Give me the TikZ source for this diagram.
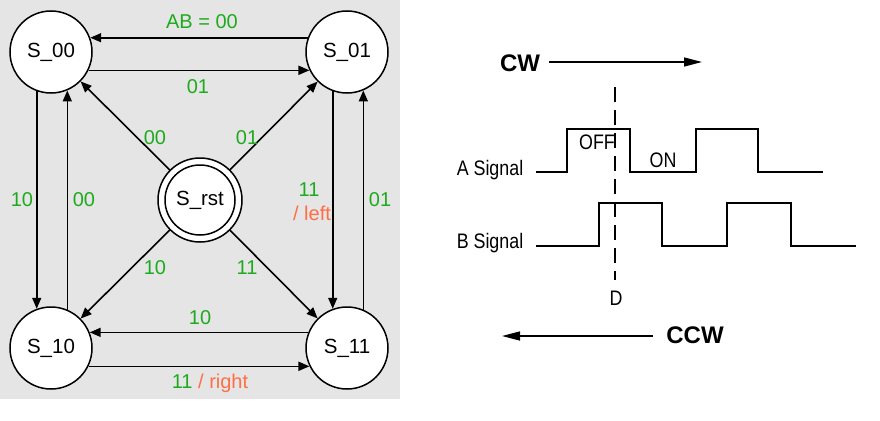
\documentclass[tikz,border=0pt]{standalone}
\usepackage{fontspec}
\setmainfont{Liberation Sans}
\newfontfamily\condfont[FakeStretch=0.85]{Liberation Sans}
\usetikzlibrary{arrows.meta}
\definecolor{bggray}{RGB}{229,229,229}
\definecolor{lblgreen}{RGB}{30,170,30}
\definecolor{lblorange}{RGB}{255,110,70}
\tikzset{
  state/.style={circle, draw=black, fill=white, line width=1.5pt, minimum size=82pt, inner sep=0pt,
    font=\fontsize{20.5}{24}\selectfont},
  arr/.style={line width=1.6pt, -{Triangle[length=11pt,width=9pt]}},
  lbl/.style={inner sep=0pt, text=lblgreen, font=\fontsize{20}{24}\selectfont},
  lblo/.style={inner sep=0pt, text=lblorange, font=\fontsize{20}{24}\selectfont},
  sig/.style={line width=2.7pt, line join=miter},
  sigtxt/.style={inner sep=0pt, font=\condfont\fontsize{21}{24}\selectfont},
  bigarr/.style={line width=1.4pt, -{Triangle[length=18pt,width=9pt]}},
  dirtxt/.style={inner sep=0pt, font=\bfseries\fontsize{24}{28}\selectfont}
}
\begin{document}
\begin{tikzpicture}[x=1pt,y=-1pt]
\useasboundingbox (0,0) rectangle (880,420);
\fill[white] (0,0) rectangle (880,420);
\fill[bggray] (0,0) rectangle (400,399);

% states
\node[state] (s00) at (51,52) {S\_00};
\node[state] (s01) at (347,52) {S\_01};
\node[state] (s10) at (51,348) {S\_10};
\node[state] (s11) at (347,348) {S\_11};
\coordinate (rstc) at (200,200);
\draw[line width=1.5pt, fill=white] (rstc) circle[radius=42pt];
\node[state, minimum size=70pt, outer sep=7pt] (rst) at (rstc) {S\_rst};

% transitions
\draw[arr] (s01.160) -- (s00.20);
\draw[arr] (s00.334) -- (s01.206);
\draw[arr] (s00.250) -- (s10.110);
\draw[arr] (s10.67) -- (s00.293);
\draw[arr] (s01.250) -- (s11.110);
\draw[arr] (s11.67) -- (s01.293);
\draw[arr] (s11.158) -- (s10.22);
\draw[arr] (s10.334) -- (s11.206);
\draw[arr] (rst) -- (s00);
\draw[arr] (rst) -- (s01);
\draw[arr] (rst) -- (s10);
\draw[arr] (rst) -- (s11);

% labels
\node[lbl] (l1) at (202,22) {AB = 00};
\node[lbl] (l2) at (198,87) {01};
\node[lbl] (l3) at (155,138) {00};
\node[lbl] (l4) at (247,138) {01};
\node[lbl] (l5) at (22,200) {10};
\node[lbl] (l6) at (84,200) {00};
\node[lbl] (l7) at (309,190) {11};
\node[lblo] (l7b) at (312,213) {/ left};
\node[lbl] (l8) at (380,200) {01};
\node[lbl] (l9) at (155,268) {10};
\node[lbl] (l10) at (247,268) {11};
\node[lbl] (l11) at (200,318) {10};
\node[lbl] (l12) at (210,383) {11 \textcolor{lblorange}{/ right}};

% right panel
\node[dirtxt] (cw) at (520,63) {CW};
\coordinate (cws) at (549,62);
\coordinate (cwe) at (702,62);
\draw[bigarr] (cws) -- (cwe);

\node[dirtxt] (ccw) at (695,335) {CCW};
\coordinate (ccws) at (653,336);
\coordinate (ccwe) at (502,336);
\draw[bigarr] (ccws) -- (ccwe);

\node[sigtxt] (atxt) at (490,170) {A Signal};
\node[sigtxt] (btxt) at (490,243) {B Signal};
\node[sigtxt] (off) at (597,142) {OFF};
\node[sigtxt] (on) at (663,160) {ON};
\node[sigtxt] (dtxt) at (616,298) {D};

\draw[sig] (536,172) -- (567,172) -- (567,129) -- (630,129) -- (630,172) -- (696,172)
  -- (696,129) -- (758,129) -- (758,172) -- (823,172);
\draw[sig] (536,246) -- (599,246) -- (599,203) -- (662,203) -- (662,246) -- (727,246)
  -- (727,203) -- (791,203) -- (791,246) -- (856,246);

\coordinate (dtop) at (615,87);
\coordinate (dbot) at (615,280);
\draw[line width=1.8pt, dash pattern=on 15pt off 8pt] (dtop) -- (dbot);
\end{tikzpicture}
\end{document}
